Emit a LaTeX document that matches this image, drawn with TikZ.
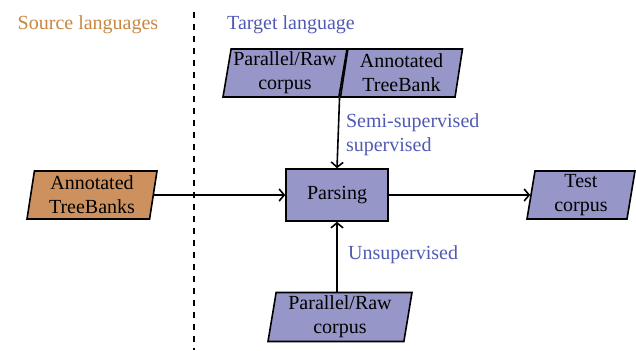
\documentclass[tikz,border=0pt]{standalone}
\usepackage{fontspec}
\setmainfont{Liberation Serif}
\usetikzlibrary{shapes.geometric,arrows.meta}
\definecolor{srcfill}{RGB}{205,145,95}
\definecolor{srctext}{RGB}{200,135,65}
\definecolor{tgtfill}{RGB}{150,150,200}
\definecolor{tgttext}{RGB}{80,90,180}
\tikzset{
  data/.style={draw,line width=0.8pt,trapezium,trapezium left angle=80,
    trapezium right angle=100,trapezium stretches body,align=center,
    minimum height=24pt,inner sep=1pt,fill=tgtfill},
  proc/.style={draw,line width=0.8pt,minimum width=51pt,minimum height=26pt,fill=tgtfill},
  link/.style={line width=0.8pt,-{Straight Barb[length=2.5pt,width=6pt]}},
  tag/.style={text=tgttext,align=left,anchor=west}
}
\begin{document}
\begin{tikzpicture}[x=0.5pt,y=-0.5pt]
  \useasboundingbox (0,0) rectangle (636,350);
  % Headings and the divider
  \node[text=srctext] (src)  at (88,25)  {Source languages};
  \node[text=tgttext] (tgt)  at (291,25) {Target language};
  \draw[dashed,line width=1pt] (194,12) -- (194,350);
  % Source side
  \node[data,fill=srcfill,minimum width=65pt] (tb) at (92,195) {Annotated\\TreeBanks};
  % Target side
  \node[proc]                     (parse) at (337,195) {Parsing};
  \node[data,minimum width=62pt]  (pcorp) at (285,73)  {Parallel/Raw\\corpus};
  \node[data,minimum width=61pt,anchor=bottom left corner] (atb) at (pcorp.bottom right corner) {Annotated\\TreeBank};
  \node[data,minimum width=72pt,minimum height=24.5pt] (bcorp) at (340,317) {Parallel/Raw\\corpus};
  \node[data,minimum width=54pt]  (test)  at (581,195) {Test\\corpus};
  \node[tag] (semi)  at (339,135) {Semi-supervised\\supervised};
  \node[tag] (unsup) at (341,255) {Unsupervised};
  % Connectors
  \draw[link] (tb) -- (parse);
  \draw[link] (parse) -- (test);
  \draw[link] (pcorp.bottom right corner) -- (parse.north);
  \draw[link] (parse |- bcorp.north) -- (parse.south);
\end{tikzpicture}
\end{document}
